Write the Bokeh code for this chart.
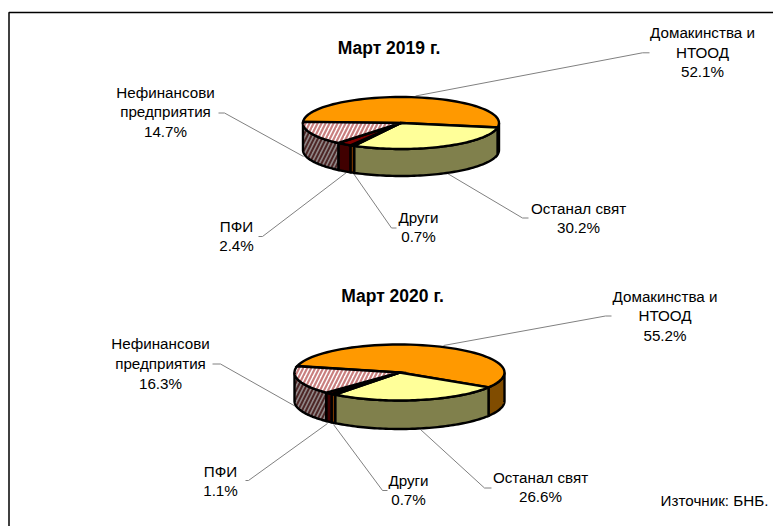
import math
from bokeh.embed import file_html
from bokeh.resources import INLINE
from bokeh.plotting import figure
from bokeh.models import ColumnDataSource
from bokeh.core.properties import value

# share of each slice, clockwise from the top-left start of the households slice
names = ["Домакинства и НТООД", "Останал свят", "Други", "ПФИ", "Нефинансови предприятия"]
values_2019 = [52.1, 30.2, 0.7, 2.4, 14.7]
values_2020 = [55.2, 26.6, 0.7, 1.1, 16.3]

top_colors = ["#FF9900", "#FFFF99", "#993300", "#800000", "#FFFFFF"]
side_colors = ["#804C00", "#80804C", "#7A3800", "#400000", "#908888"]
HATCH_INDEX = 4

FONT = "Liberation Sans"
W, H = 773, 526
p = figure(width=W, height=H, x_range=(0, W), y_range=(H, 0),
           toolbar_location=None, output_backend="svg", min_border=0,
           outline_line_color=None, background_fill_color="white", border_fill_color="white")
p.xaxis.visible = False
p.yaxis.visible = False
p.grid.visible = False


def arc(cx, cy, rx, ry, a, b, n=60):
    pts = [a + (b - a) * i / n for i in range(n + 1)]
    return ([cx + rx * math.cos(math.radians(t)) for t in pts],
            [cy - ry * math.sin(math.radians(t)) for t in pts])


def draw_pie(vals, start, cx, cy, rx, ry, depth):
    t = start
    spans = []
    for v in vals:
        spans.append((t, t - v * 3.6))
        t -= v * 3.6
    for i, (a, b) in enumerate(spans):
        hi = min(a, 0)
        lo = max(b, -180)
        if hi <= lo:
            continue
        x, y = arc(cx, cy, rx, ry, hi, lo)
        xs = x + x[::-1]
        ys = y + [v + depth for v in y[::-1]]
        kw = {}
        if i == HATCH_INDEX:
            kw = dict(hatch_pattern="right_diagonal_line", hatch_color="#4D2626",
                      hatch_scale=8, hatch_weight=2)
        p.patch(xs, ys, fill_color=side_colors[i], line_color="black", line_width=2.4,
                line_join="miter", **kw)
    for i, (a, b) in enumerate(spans):
        x, y = arc(cx, cy, rx, ry, a, b)
        xs = [cx] + x
        ys = [cy] + y
        kw = {}
        if i == HATCH_INDEX:
            kw = dict(hatch_pattern="right_diagonal_line", hatch_color="#C97F7F",
                      hatch_scale=8, hatch_weight=2.2)
        p.patch(xs, ys, fill_color=top_colors[i], line_color="black", line_width=2.4,
                line_join="miter", **kw)


leaders = [
    ([415, 642, 649], [95.5, 52.3, 52.3]),
    ([218, 224, 303], [112.5, 112.5, 156]),
    ([447, 522, 528], [173, 217.5, 217.5]),
    ([346, 262, 258], [172, 236, 236]),
    ([353, 391, 396], [173, 227.5, 227.5]),
    ([443, 605, 611], [345, 315.5, 315.5]),
    ([212, 220, 297], [363.5, 363.5, 407]),
    ([420, 484, 491], [429, 487.5, 487.5]),
    ([327, 248, 245], [423, 480, 480]),
    ([333, 382, 387], [424, 490, 490]),
]
p.multi_line([l[0] for l in leaders], [l[1] for l in leaders], line_color="#808080", line_width=1)

draw_pie(values_2019, 177.7, 400.5, 122.5, 98, 26, 27)
draw_pie(values_2020, 166.7, 399, 372, 105, 28, 28.5)

# frame: top and left rules
p.line([8.5, 8.5, W], [H, 12, 12], line_color="black", line_width=1.5)

labels = [
    ("Домакинства и", 702, 32), ("НТООД", 702, 52), ("52.1%", 702, 71),
    ("Нефинансови", 165, 92), ("предприятия", 165, 111), ("14.7%", 165, 131),
    ("ПФИ", 236, 226), ("2.4%", 236, 245),
    ("Други", 418, 217), ("0.7%", 418, 236),
    ("Останал свят", 578, 208), ("30.2%", 578, 227),
    ("Домакинства и", 664.5, 296), ("НТООД", 664.5, 315), ("55.2%", 664.5, 335),
    ("Нефинансови", 160, 343), ("предприятия", 160, 363), ("16.3%", 160, 383),
    ("ПФИ", 220, 471), ("1.1%", 220, 490),
    ("Други", 408, 480), ("0.7%", 408, 499),
    ("Останал свят", 540, 477), ("26.6%", 540, 496),
    ("Източник: БНБ.", 714, 500),
]
src = ColumnDataSource(dict(t=[l[0] for l in labels], x=[l[1] for l in labels], y=[l[2] for l in labels]))
p.text("x", "y", text="t", source=src, text_font=value(FONT), text_font_size="15.2px",
       text_align="center", text_baseline="middle", text_color="black")

titles = [("Март 2019 г.", 388.5, 47), ("Март 2020 г.", 392, 295)]
src2 = ColumnDataSource(dict(t=[l[0] for l in titles], x=[l[1] for l in titles], y=[l[2] for l in titles]))
p.text("x", "y", text="t", source=src2, text_font=value(FONT), text_font_size="17.5px",
       text_font_style="bold", text_align="center", text_baseline="middle", text_color="black")

open("out.html", "w").write(file_html(p, INLINE))
